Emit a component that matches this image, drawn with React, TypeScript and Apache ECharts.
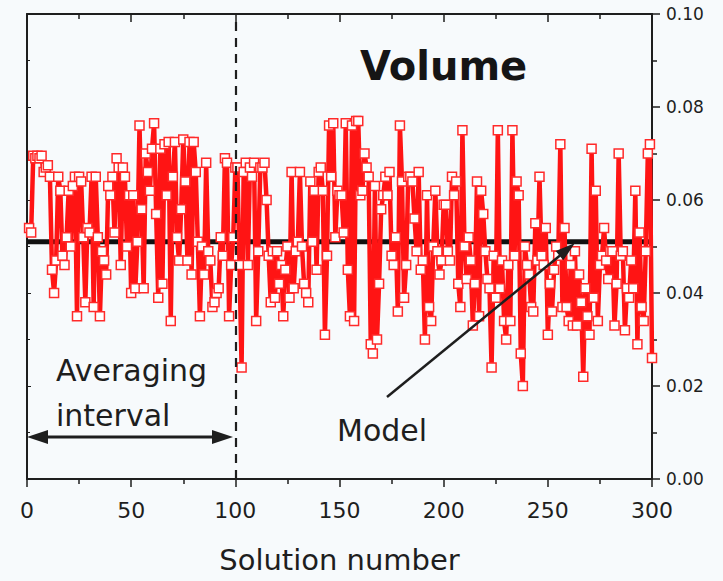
import React, { useEffect, useRef } from "react";
import * as echarts from "echarts";

// Solution number 1..300, volume values (in 50-value blocks)
const seg1 = [
  0.054, 0.053, 0.0695, 0.069, 0.0695, 0.069, 0.0695, 0.066, 0.067, 0.0675,
  0.065, 0.045, 0.040, 0.047, 0.065, 0.062, 0.048, 0.046, 0.052, 0.062,
  0.050, 0.063, 0.065, 0.035, 0.065, 0.064, 0.052, 0.038, 0.054, 0.053,
  0.065, 0.037, 0.065, 0.052, 0.035, 0.049, 0.047, 0.044, 0.063, 0.061,
  0.065, 0.053, 0.069, 0.067, 0.046, 0.067, 0.065, 0.050, 0.061, 0.040,
];
const seg2 = [
  0.061, 0.041, 0.051, 0.076, 0.058, 0.041, 0.070, 0.066, 0.062, 0.071,
  0.0765, 0.057, 0.039, 0.071, 0.042, 0.072, 0.061, 0.0725, 0.034, 0.065,
  0.0725, 0.052, 0.047, 0.058, 0.073, 0.064, 0.047, 0.0725, 0.044, 0.0725,
  0.066, 0.051, 0.035, 0.050, 0.044, 0.068, 0.049, 0.047, 0.037, 0.038,
  0.040, 0.041, 0.052, 0.048, 0.069, 0.068, 0.035, 0.046, 0.052, 0.067,
];
const seg3 = [
  0.067, 0.046, 0.024, 0.066, 0.068, 0.046, 0.067, 0.065, 0.068, 0.034,
  0.049, 0.067, 0.067, 0.068, 0.060, 0.048, 0.038, 0.049, 0.039, 0.049,
  0.042, 0.046, 0.035, 0.045, 0.050, 0.039, 0.066, 0.041, 0.049, 0.051,
  0.066, 0.050, 0.042, 0.040, 0.038, 0.064, 0.051, 0.062, 0.045, 0.066,
  0.067, 0.062, 0.031, 0.048, 0.076, 0.065, 0.0765, 0.052, 0.062, 0.061,
];
const seg4 = [
  0.061, 0.053, 0.0765, 0.045, 0.035, 0.076, 0.034, 0.077, 0.077, 0.061,
  0.062, 0.070, 0.067, 0.065, 0.029, 0.027, 0.063, 0.030, 0.042, 0.058,
  0.061, 0.065, 0.061, 0.066, 0.048, 0.046, 0.052, 0.036, 0.076, 0.064,
  0.039, 0.046, 0.065, 0.065, 0.064, 0.056, 0.049, 0.066, 0.045, 0.047,
  0.030, 0.061, 0.037, 0.034, 0.050, 0.062, 0.049, 0.044, 0.047, 0.059,
];
const seg5 = [
  0.059, 0.049, 0.047, 0.065, 0.061, 0.064, 0.042, 0.037, 0.075, 0.050,
  0.043, 0.052, 0.047, 0.033, 0.042, 0.064, 0.035, 0.062, 0.057, 0.049,
  0.043, 0.041, 0.024, 0.048, 0.039, 0.075, 0.041, 0.047, 0.034, 0.030,
  0.046, 0.034, 0.075, 0.048, 0.064, 0.061, 0.027, 0.020, 0.050, 0.046,
  0.044, 0.037, 0.036, 0.055, 0.047, 0.065, 0.048, 0.046, 0.054, 0.031,
];
const seg6 = [
  0.042, 0.036, 0.045, 0.050, 0.048, 0.072, 0.037, 0.054, 0.037, 0.034,
  0.046, 0.033, 0.049, 0.033, 0.044, 0.038, 0.022, 0.041, 0.035, 0.031,
  0.071, 0.039, 0.062, 0.034, 0.046, 0.048, 0.054, 0.047, 0.043, 0.049,
  0.049, 0.033, 0.042, 0.070, 0.048, 0.049, 0.032, 0.041, 0.039, 0.047,
  0.041, 0.062, 0.029, 0.053, 0.037, 0.034, 0.049, 0.070, 0.072, 0.026,
];
const volumeValues = [...seg1, ...seg2, ...seg3, ...seg4, ...seg5, ...seg6];

const modelValue = 0.051;
const averagingEnd = 100;
const xRange = [0, 300];
const yRange = [0, 0.1];

const FONT = "DejaVu Sans";
const INK = "#1e1e1e";

export default function App() {
  const ref = useRef<HTMLDivElement>(null);

  useEffect(() => {
    if (!ref.current) return;
    const chart = echarts.init(ref.current, undefined, { renderer: "svg" });

    const volumeData = volumeValues.map((v, i) => [i + 1, v]);
    const modelData = [
      [xRange[0], modelValue],
      [xRange[1], modelValue],
    ];

    const axisLine = { show: true, onZero: false, lineStyle: { color: INK, width: 2 } };

    chart.setOption({
      animation: false,
      backgroundColor: "#f7fafc",
      grid: { left: 27, right: 71, top: 14, bottom: 102 },
      xAxis: [
        {
          type: "value",
          min: xRange[0],
          max: xRange[1],
          interval: 50,
          position: "bottom",
          axisLine,
          axisTick: { show: true, inside: false, length: 8, lineStyle: { color: INK, width: 1.5 } },
          minorTick: { show: true, splitNumber: 2, length: 5, lineStyle: { color: INK, width: 1.5 } },
          splitLine: { show: false },
          axisLabel: { fontFamily: FONT, fontSize: 22, color: INK, margin: 20 },
          name: "Solution number",
          nameLocation: "middle",
          nameGap: 66,
          nameTextStyle: { fontFamily: FONT, fontSize: 29, color: INK },
        },
        {
          type: "value",
          min: xRange[0],
          max: xRange[1],
          interval: 50,
          position: "top",
          axisLine,
          axisTick: { show: true, inside: true, length: 8, lineStyle: { color: INK, width: 1.5 } },
          minorTick: { show: true, splitNumber: 2, length: 5, lineStyle: { color: INK, width: 1.5 } },
          splitLine: { show: false },
          axisLabel: { show: false },
        },
      ],
      yAxis: [
        {
          type: "value",
          min: yRange[0],
          max: yRange[1],
          interval: 0.02,
          position: "right",
          axisLine,
          axisTick: { show: true, inside: false, length: 8, lineStyle: { color: INK, width: 1.5 } },
          minorTick: { show: true, splitNumber: 2, length: 5, lineStyle: { color: INK, width: 1.5 } },
          splitLine: { show: false },
          axisLabel: {
            fontFamily: FONT,
            fontSize: 17,
            color: INK,
            margin: 14,
            formatter: (v: number) => v.toFixed(2),
          },
        },
        {
          type: "value",
          min: yRange[0],
          max: yRange[1],
          interval: 0.02,
          position: "left",
          axisLine,
          axisTick: { show: true, inside: true, length: 4, lineStyle: { color: INK, width: 1 } },
          minorTick: { show: true, splitNumber: 2, length: 3, lineStyle: { color: INK, width: 1 } },
          splitLine: { show: false },
          axisLabel: { show: false },
        },
      ],
      series: [
        {
          name: "Model",
          type: "line",
          xAxisIndex: 0,
          yAxisIndex: 0,
          data: modelData,
          symbol: "none",
          z: 1,
          lineStyle: { color: "#111", width: 5 },
          markLine: {
            silent: true,
            symbol: ["none", "none"],
            label: { show: false },
            lineStyle: { color: INK, width: 2.2, type: [9, 7] },
            data: [{ xAxis: averagingEnd }],
          },
        },
        {
          name: "Volume",
          type: "line",
          xAxisIndex: 0,
          yAxisIndex: 0,
          data: volumeData,
          z: 3,
          symbol: "rect",
          symbolSize: 9,
          showAllSymbol: true,
          lineStyle: { color: "#ff1414", width: 4.5 },
          itemStyle: { color: "#ffffff", borderColor: "#ff2a2a", borderWidth: 1.5 },
        },
      ],
      graphic: [
        {
          type: "text",
          x: 360,
          y: 66,
          z: 10,
          style: {
            text: "Volume",
            font: `bold 40px "${FONT}"`,
            fill: "#151515",
            textVerticalAlign: "middle",
          },
        },
        {
          type: "text",
          x: 56,
          y: 370,
          z: 10,
          style: { text: "Averaging", font: `30px "${FONT}"`, fill: INK, textVerticalAlign: "middle" },
        },
        {
          type: "text",
          x: 56,
          y: 415,
          z: 10,
          style: { text: "interval", font: `30px "${FONT}"`, fill: INK, textVerticalAlign: "middle" },
        },
        {
          type: "text",
          x: 337,
          y: 430,
          z: 10,
          style: { text: "Model", font: `30px "${FONT}"`, fill: INK, textVerticalAlign: "middle" },
        },
        {
          type: "line",
          z: 10,
          shape: { x1: 45, y1: 437, x2: 215, y2: 437 },
          style: { stroke: INK, lineWidth: 3 },
        },
        {
          type: "polygon",
          z: 10,
          shape: { points: [[27, 437], [48, 430], [48, 444]] },
          style: { fill: INK },
        },
        {
          type: "polygon",
          z: 10,
          shape: { points: [[233, 437], [212, 430], [212, 444]] },
          style: { fill: INK },
        },
        {
          type: "line",
          z: 10,
          shape: { x1: 387, y1: 397, x2: 560, y2: 255.5 },
          style: { stroke: INK, lineWidth: 2.5 },
        },
        {
          type: "polygon",
          z: 10,
          shape: { points: [[575, 243], [563.3, 260.3], [555.7, 251.1]] },
          style: { fill: INK },
        },
      ],
    });

    return () => chart.dispose();
  }, []);

  return (
    <div
      ref={ref}
      style={{ position: "fixed", left: 0, top: 0, width: 723, height: 581 }}
    />
  );
}
